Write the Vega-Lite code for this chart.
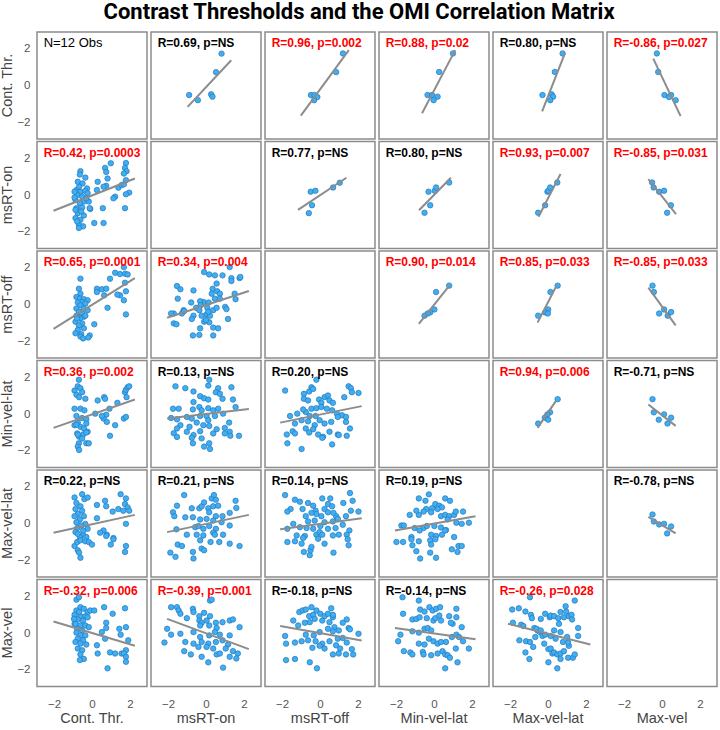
{
"$schema":"https://vega.github.io/schema/vega-lite/v6.json",
"title":{"text":"Contrast Thresholds and the OMI Correlation Matrix","font":"Roboto","fontSize":22,"fontWeight":"bold","color":"#000000","anchor":"middle","frame":"bounds","offset":7},
"padding":{"left":0,"top":1,"right":1,"bottom":1},
"config":{"view":{"stroke":"#8c8c8c","strokeWidth":1.5},"axis":{"grid":false,"domain":false,"ticks":false,"minExtent":0,"labelFont":"Liberation Sans","labelFontSize":11.5,"labelColor":"#555555"},"axisX":{"labelPadding":10},"axisY":{"labelPadding":6}},
"data":{"values":[
{"r":1,"c":1,"t":"N=12 Obs","s":"obs"},
{"r":2,"c":2},{"r":3,"c":3},{"r":4,"c":4},{"r":5,"c":5},{"r":6,"c":6},
{"r":1,"c":2,"t":"R=0.69, p=NS","s":"ns"},
{"r":1,"c":3,"t":"R=0.96, p=0.002","s":"sig"},
{"r":1,"c":4,"t":"R=0.88, p=0.02","s":"sig"},
{"r":1,"c":5,"t":"R=0.80, p=NS","s":"ns"},
{"r":1,"c":6,"t":"R=-0.86, p=0.027","s":"sig"},
{"r":2,"c":1,"t":"R=0.42, p=0.0003","s":"sig"},
{"r":2,"c":3,"t":"R=0.77, p=NS","s":"ns"},
{"r":2,"c":4,"t":"R=0.80, p=NS","s":"ns"},
{"r":2,"c":5,"t":"R=0.93, p=0.007","s":"sig"},
{"r":2,"c":6,"t":"R=-0.85, p=0.031","s":"sig"},
{"r":3,"c":1,"t":"R=0.65, p=0.0001","s":"sig"},
{"r":3,"c":2,"t":"R=0.34, p=0.004","s":"sig"},
{"r":3,"c":4,"t":"R=0.90, p=0.014","s":"sig"},
{"r":3,"c":5,"t":"R=0.85, p=0.033","s":"sig"},
{"r":3,"c":6,"t":"R=-0.85, p=0.033","s":"sig"},
{"r":4,"c":1,"t":"R=0.36, p=0.002","s":"sig"},
{"r":4,"c":2,"t":"R=0.13, p=NS","s":"ns"},
{"r":4,"c":3,"t":"R=0.20, p=NS","s":"ns"},
{"r":4,"c":5,"t":"R=0.94, p=0.006","s":"sig"},
{"r":4,"c":6,"t":"R=-0.71, p=NS","s":"ns"},
{"r":5,"c":1,"t":"R=0.22, p=NS","s":"ns"},
{"r":5,"c":2,"t":"R=0.21, p=NS","s":"ns"},
{"r":5,"c":3,"t":"R=0.14, p=NS","s":"ns"},
{"r":5,"c":4,"t":"R=0.19, p=NS","s":"ns"},
{"r":5,"c":6,"t":"R=-0.78, p=NS","s":"ns"},
{"r":6,"c":1,"t":"R=-0.32, p=0.006","s":"sig"},
{"r":6,"c":2,"t":"R=-0.39, p=0.001","s":"sig"},
{"r":6,"c":3,"t":"R=-0.18, p=NS","s":"ns"},
{"r":6,"c":4,"t":"R=-0.14, p=NS","s":"ns"},
{"r":6,"c":5,"t":"R=-0.26, p=0.028","s":"sig"},
{"r":1,"c":2,"x":-0.97,"y":-1.17,"x2":1.33,"y2":1.38},
{"r":1,"c":3,"x":-1.01,"y":-1.64,"x2":1.52,"y2":1.93},
{"r":1,"c":4,"x":-0.63,"y":-1.51,"x2":1.12,"y2":1.93},
{"r":1,"c":5,"x":-0.31,"y":-1.41,"x2":0.89,"y2":1.75},
{"r":1,"c":6,"x":-0.46,"y":1.47,"x2":0.98,"y2":-1.67},
{"r":2,"c":3,"x":-1.16,"y":-0.81,"x2":1.39,"y2":0.94},
{"r":2,"c":4,"x":-0.79,"y":-0.83,"x2":0.89,"y2":0.94},
{"r":2,"c":5,"x":-0.50,"y":-1.19,"x2":0.66,"y2":1.15},
{"r":2,"c":6,"x":-0.72,"y":0.86,"x2":0.74,"y2":-1.05},
{"r":3,"c":4,"x":-0.80,"y":-1.06,"x2":0.80,"y2":1.01},
{"r":3,"c":5,"x":-0.55,"y":-0.99,"x2":0.44,"y2":1.01},
{"r":3,"c":6,"x":-0.72,"y":0.92,"x2":0.72,"y2":-1.14},
{"r":4,"c":5,"x":-0.55,"y":-0.76,"x2":0.41,"y2":0.70},
{"r":4,"c":6,"x":-0.72,"y":0.52,"x2":0.72,"y2":-0.65},
{"r":5,"c":6,"x":-0.72,"y":0.36,"x2":0.72,"y2":-0.54},
{"r":2,"c":1,"x":-2.03,"y":-0.86,"x2":2.26,"y2":0.90},
{"r":3,"c":1,"x":-2.03,"y":-1.33,"x2":2.26,"y2":1.44},
{"r":3,"c":2,"x":-2.05,"y":-0.72,"x2":2.26,"y2":0.74},
{"r":4,"c":1,"x":-2.03,"y":-0.76,"x2":2.26,"y2":0.79},
{"r":4,"c":2,"x":-2.05,"y":-0.25,"x2":2.26,"y2":0.27},
{"r":4,"c":3,"x":-2.10,"y":-0.47,"x2":2.20,"y2":0.43},
{"r":5,"c":1,"x":-2.03,"y":-0.50,"x2":2.26,"y2":0.47},
{"r":5,"c":2,"x":-2.05,"y":-0.47,"x2":2.26,"y2":0.47},
{"r":5,"c":3,"x":-2.10,"y":-0.32,"x2":2.20,"y2":0.29},
{"r":5,"c":4,"x":-2.06,"y":-0.38,"x2":2.19,"y2":0.40},
{"r":6,"c":1,"x":-2.03,"y":0.63,"x2":2.26,"y2":-0.70},
{"r":6,"c":2,"x":-2.05,"y":0.77,"x2":2.26,"y2":-0.88},
{"r":6,"c":3,"x":-2.10,"y":0.38,"x2":2.20,"y2":-0.41},
{"r":6,"c":4,"x":-2.06,"y":0.27,"x2":2.19,"y2":-0.34},
{"r":6,"c":5,"x":-2.11,"y":0.50,"x2":2.23,"y2":-0.63},
{"r":1,"c":2,"x":-0.89,"y":-0.52},{"r":1,"c":2,"x":-0.43,"y":-0.80},{"r":1,"c":2,"x":0.27,"y":-0.48},{"r":1,"c":2,"x":0.34,"y":-0.61},{"r":1,"c":2,"x":0.53,"y":0.73},{"r":1,"c":2,"x":0.82,"y":1.74},
{"r":1,"c":3,"x":1.21,"y":1.75},{"r":1,"c":3,"x":0.85,"y":0.73},{"r":1,"c":3,"x":-0.48,"y":-0.52},{"r":1,"c":3,"x":-0.29,"y":-0.52},{"r":1,"c":3,"x":-0.14,"y":-0.63},{"r":1,"c":3,"x":-0.31,"y":-0.80},
{"r":1,"c":4,"x":1.00,"y":1.75},{"r":1,"c":4,"x":0.27,"y":0.74},{"r":1,"c":4,"x":-0.34,"y":-0.52},{"r":1,"c":4,"x":-0.10,"y":-0.52},{"r":1,"c":4,"x":0.19,"y":-0.61},{"r":1,"c":4,"x":-0.02,"y":-0.80},
{"r":1,"c":5,"x":0.77,"y":1.75},{"r":1,"c":5,"x":0.36,"y":0.74},{"r":1,"c":5,"x":-0.29,"y":-0.52},{"r":1,"c":5,"x":0.19,"y":-0.48},{"r":1,"c":5,"x":0.27,"y":-0.61},{"r":1,"c":5,"x":0.12,"y":-0.80},
{"r":1,"c":6,"x":-0.27,"y":1.75},{"r":1,"c":6,"x":-0.20,"y":0.74},{"r":1,"c":6,"x":0.13,"y":-0.52},{"r":1,"c":6,"x":0.48,"y":-0.52},{"r":1,"c":6,"x":0.37,"y":-0.63},{"r":1,"c":6,"x":0.72,"y":-0.80},
{"r":2,"c":3,"x":-0.59,"y":-0.99},{"r":2,"c":3,"x":-0.49,"y":0.18},{"r":2,"c":3,"x":-0.24,"y":0.23},{"r":2,"c":3,"x":-0.42,"y":-0.56},{"r":2,"c":3,"x":0.69,"y":0.41},{"r":2,"c":3,"x":1.04,"y":0.67},
{"r":2,"c":4,"x":-0.50,"y":-0.97},{"r":2,"c":4,"x":-0.20,"y":-0.56},{"r":2,"c":4,"x":-0.29,"y":0.18},{"r":2,"c":4,"x":0.04,"y":0.23},{"r":2,"c":4,"x":0.11,"y":0.41},{"r":2,"c":4,"x":0.80,"y":0.68},
{"r":2,"c":5,"x":-0.52,"y":-0.97},{"r":2,"c":5,"x":-0.15,"y":-0.56},{"r":2,"c":5,"x":-0.03,"y":0.18},{"r":2,"c":5,"x":0.02,"y":0.23},{"r":2,"c":5,"x":0.11,"y":0.41},{"r":2,"c":5,"x":0.49,"y":0.68},
{"r":2,"c":6,"x":-0.52,"y":0.68},{"r":2,"c":6,"x":-0.44,"y":0.41},{"r":2,"c":6,"x":-0.15,"y":0.18},{"r":2,"c":6,"x":0.11,"y":0.23},{"r":2,"c":6,"x":0.47,"y":-0.56},{"r":2,"c":6,"x":0.27,"y":-0.97},
{"r":3,"c":4,"x":0.80,"y":1.03},{"r":3,"c":4,"x":0.11,"y":0.68},{"r":3,"c":4,"x":0.02,"y":-0.27},{"r":3,"c":4,"x":-0.20,"y":-0.43},{"r":3,"c":4,"x":-0.33,"y":-0.49},{"r":3,"c":4,"x":-0.50,"y":-0.61},
{"r":3,"c":5,"x":0.51,"y":1.03},{"r":3,"c":5,"x":0.13,"y":0.68},{"r":3,"c":5,"x":0.01,"y":-0.27},{"r":3,"c":5,"x":-0.15,"y":-0.43},{"r":3,"c":5,"x":-0.01,"y":-0.49},{"r":3,"c":5,"x":-0.52,"y":-0.61},
{"r":3,"c":6,"x":-0.50,"y":1.03},{"r":3,"c":6,"x":-0.43,"y":0.68},{"r":3,"c":6,"x":-0.15,"y":-0.49},{"r":3,"c":6,"x":0.11,"y":-0.27},{"r":3,"c":6,"x":0.30,"y":-0.61},{"r":3,"c":6,"x":0.48,"y":-0.41},
{"r":4,"c":5,"x":0.51,"y":0.81},{"r":4,"c":5,"x":0.11,"y":0.09},{"r":4,"c":5,"x":-0.03,"y":-0.02},{"r":4,"c":5,"x":-0.17,"y":-0.20},{"r":4,"c":5,"x":0.01,"y":-0.31},{"r":4,"c":5,"x":-0.52,"y":-0.52},
{"r":4,"c":6,"x":-0.50,"y":0.81},{"r":4,"c":6,"x":-0.43,"y":0.09},{"r":4,"c":6,"x":-0.17,"y":-0.31},{"r":4,"c":6,"x":0.11,"y":-0.02},{"r":4,"c":6,"x":0.29,"y":-0.52},{"r":4,"c":6,"x":0.48,"y":-0.20},
{"r":5,"c":6,"x":-0.50,"y":0.49},{"r":5,"c":6,"x":-0.43,"y":0.11},{"r":5,"c":6,"x":-0.15,"y":-0.05},{"r":5,"c":6,"x":0.11,"y":-0.02},{"r":5,"c":6,"x":0.48,"y":-0.16},{"r":5,"c":6,"x":0.27,"y":-0.54},
{"r":2,"c":1,"x":-0.61,"y":1.30},{"r":2,"c":1,"x":-0.64,"y":1.12},{"r":2,"c":1,"x":-0.35,"y":0.95},{"r":2,"c":1,"x":-0.75,"y":0.72},{"r":2,"c":1,"x":-0.50,"y":0.63},{"r":2,"c":1,"x":-0.26,"y":0.36},{"r":2,"c":1,"x":-0.82,"y":0.27},{"r":2,"c":1,"x":-0.61,"y":0.18},{"r":2,"c":1,"x":-0.35,"y":0.22},{"r":2,"c":1,"x":-0.78,"y":0.00},{"r":2,"c":1,"x":-0.52,"y":-0.09},{"r":2,"c":1,"x":-0.23,"y":0.09},{"r":2,"c":1,"x":-0.87,"y":-0.27},{"r":2,"c":1,"x":-0.43,"y":-0.36},{"r":2,"c":1,"x":-0.64,"y":-0.45},{"r":2,"c":1,"x":-0.17,"y":-0.36},{"r":2,"c":1,"x":-0.82,"y":-0.72},{"r":2,"c":1,"x":-0.52,"y":-0.68},{"r":2,"c":1,"x":-0.09,"y":-0.76},{"r":2,"c":1,"x":-0.75,"y":-0.99},{"r":2,"c":1,"x":-0.43,"y":-1.12},{"r":2,"c":1,"x":-0.87,"y":-1.26},{"r":2,"c":1,"x":-0.61,"y":-1.35},{"r":2,"c":1,"x":-0.69,"y":-1.62},{"r":2,"c":1,"x":-0.47,"y":-1.71},{"r":2,"c":1,"x":-0.69,"y":-1.80},{"r":2,"c":1,"x":-0.92,"y":-0.14},{"r":2,"c":1,"x":-0.68,"y":0.45},{"r":2,"c":1,"x":-0.30,"y":-0.18},{"r":2,"c":1,"x":-0.87,"y":-0.81},{"r":2,"c":1,"x":-0.92,"y":0.18},{"r":2,"c":1,"x":-0.57,"y":-0.90},{"r":2,"c":1,"x":-0.78,"y":-1.44},{"r":2,"c":1,"x":0.99,"y":1.73},{"r":2,"c":1,"x":0.69,"y":1.48},{"r":2,"c":1,"x":0.75,"y":1.26},{"r":2,"c":1,"x":0.30,"y":0.72},{"r":2,"c":1,"x":0.82,"y":0.90},{"r":2,"c":1,"x":0.26,"y":0.27},{"r":2,"c":1,"x":0.75,"y":0.50},{"r":2,"c":1,"x":0.61,"y":0.45},{"r":2,"c":1,"x":1.22,"y":-0.09},{"r":2,"c":1,"x":1.13,"y":-0.18},{"r":2,"c":1,"x":0.57,"y":-0.72},{"r":2,"c":1,"x":1.39,"y":0.40},{"r":2,"c":1,"x":1.56,"y":0.54},{"r":2,"c":1,"x":1.79,"y":1.75},{"r":2,"c":1,"x":1.74,"y":1.48},{"r":2,"c":1,"x":1.82,"y":1.30},{"r":2,"c":1,"x":1.68,"y":1.17},{"r":2,"c":1,"x":1.79,"y":0.81},{"r":2,"c":1,"x":1.68,"y":0.58},{"r":2,"c":1,"x":1.96,"y":0.13},{"r":2,"c":1,"x":1.79,"y":0.04},{"r":2,"c":1,"x":1.74,"y":-0.72},{"r":2,"c":1,"x":0.12,"y":-1.53},{"r":2,"c":1,"x":0.61,"y":-1.53},{"r":2,"c":1,"x":-0.12,"y":-0.72},
{"r":3,"c":1,"x":-0.61,"y":1.41},{"r":3,"c":1,"x":-0.69,"y":0.86},{"r":3,"c":1,"x":-0.61,"y":0.59},{"r":3,"c":1,"x":-0.82,"y":0.41},{"r":3,"c":1,"x":-0.64,"y":0.32},{"r":3,"c":1,"x":-0.43,"y":0.29},{"r":3,"c":1,"x":-0.23,"y":0.23},{"r":3,"c":1,"x":-0.52,"y":0.14},{"r":3,"c":1,"x":-0.75,"y":0.11},{"r":3,"c":1,"x":-0.35,"y":0.05},{"r":3,"c":1,"x":-0.61,"y":-0.04},{"r":3,"c":1,"x":-0.82,"y":-0.22},{"r":3,"c":1,"x":-0.43,"y":-0.22},{"r":3,"c":1,"x":-0.23,"y":-0.31},{"r":3,"c":1,"x":-0.69,"y":-0.40},{"r":3,"c":1,"x":-0.52,"y":-0.49},{"r":3,"c":1,"x":-0.82,"y":-0.61},{"r":3,"c":1,"x":-0.43,"y":-0.67},{"r":3,"c":1,"x":-0.64,"y":-0.76},{"r":3,"c":1,"x":-0.87,"y":-0.94},{"r":3,"c":1,"x":-0.52,"y":-1.03},{"r":3,"c":1,"x":-0.69,"y":-1.15},{"r":3,"c":1,"x":-0.43,"y":-1.30},{"r":3,"c":1,"x":-0.75,"y":-1.39},{"r":3,"c":1,"x":-0.57,"y":-1.62},{"r":3,"c":1,"x":-0.87,"y":-1.57},{"r":3,"c":1,"x":-0.12,"y":-1.69},{"r":3,"c":1,"x":-0.61,"y":-1.75},{"r":3,"c":1,"x":-0.35,"y":-0.61},{"r":3,"c":1,"x":-0.78,"y":-0.76},{"r":3,"c":1,"x":-0.47,"y":-1.85},{"r":3,"c":1,"x":-0.20,"y":-1.80},{"r":3,"c":1,"x":0.26,"y":0.86},{"r":3,"c":1,"x":0.52,"y":0.83},{"r":3,"c":1,"x":0.75,"y":0.86},{"r":3,"c":1,"x":0.64,"y":0.50},{"r":3,"c":1,"x":0.82,"y":-0.18},{"r":3,"c":1,"x":0.95,"y":1.41},{"r":3,"c":1,"x":1.22,"y":1.73},{"r":3,"c":1,"x":1.48,"y":1.66},{"r":3,"c":1,"x":1.68,"y":2.04},{"r":3,"c":1,"x":1.75,"y":1.68},{"r":3,"c":1,"x":1.88,"y":1.64},{"r":3,"c":1,"x":1.74,"y":1.19},{"r":3,"c":1,"x":1.48,"y":0.50},{"r":3,"c":1,"x":1.79,"y":0.72},{"r":3,"c":1,"x":1.68,"y":0.23},{"r":3,"c":1,"x":1.79,"y":-0.54},{"r":3,"c":1,"x":1.34,"y":0.54},{"r":3,"c":1,"x":0.12,"y":-1.08},{"r":3,"c":1,"x":0.26,"y":0.68},
{"r":3,"c":2,"x":-1.53,"y":1.01},{"r":3,"c":2,"x":-1.35,"y":0.83},{"r":3,"c":2,"x":-0.66,"y":0.77},{"r":3,"c":2,"x":-0.10,"y":1.77},{"r":3,"c":2,"x":0.17,"y":1.64},{"r":3,"c":2,"x":0.47,"y":1.59},{"r":3,"c":2,"x":0.87,"y":1.59},{"r":3,"c":2,"x":1.25,"y":2.04},{"r":3,"c":2,"x":1.34,"y":1.44},{"r":3,"c":2,"x":1.34,"y":1.28},{"r":3,"c":2,"x":1.77,"y":1.44},{"r":3,"c":2,"x":1.81,"y":1.50},{"r":3,"c":2,"x":0.56,"y":1.14},{"r":3,"c":2,"x":0.35,"y":0.86},{"r":3,"c":2,"x":0.59,"y":0.72},{"r":3,"c":2,"x":0.73,"y":0.59},{"r":3,"c":2,"x":0.30,"y":0.59},{"r":3,"c":2,"x":0.73,"y":0.32},{"r":3,"c":2,"x":0.47,"y":0.32},{"r":3,"c":2,"x":0.14,"y":0.11},{"r":3,"c":2,"x":-0.14,"y":0.14},{"r":3,"c":2,"x":-0.31,"y":0.18},{"r":3,"c":2,"x":-0.28,"y":-0.04},{"r":3,"c":2,"x":-0.52,"y":-0.18},{"r":3,"c":2,"x":-0.78,"y":0.11},{"r":3,"c":2,"x":-1.18,"y":-0.31},{"r":3,"c":2,"x":-1.27,"y":-0.49},{"r":3,"c":2,"x":-1.70,"y":-0.49},{"r":3,"c":2,"x":-1.84,"y":-0.49},{"r":3,"c":2,"x":-1.49,"y":0.32},{"r":3,"c":2,"x":-1.15,"y":-0.36},{"r":3,"c":2,"x":-0.66,"y":-0.61},{"r":3,"c":2,"x":-0.75,"y":-0.79},{"r":3,"c":2,"x":0.03,"y":-0.54},{"r":3,"c":2,"x":0.21,"y":-0.61},{"r":3,"c":2,"x":-0.23,"y":-0.61},{"r":3,"c":2,"x":-0.35,"y":-0.31},{"r":3,"c":2,"x":0.07,"y":-0.18},{"r":3,"c":2,"x":0.38,"y":-0.31},{"r":3,"c":2,"x":0.56,"y":-0.18},{"r":3,"c":2,"x":1.01,"y":-0.13},{"r":3,"c":2,"x":1.08,"y":-0.25},{"r":3,"c":2,"x":1.16,"y":-0.79},{"r":3,"c":2,"x":1.51,"y":0.59},{"r":3,"c":2,"x":1.56,"y":0.29},{"r":3,"c":2,"x":-0.10,"y":-0.94},{"r":3,"c":2,"x":0.17,"y":-0.97},{"r":3,"c":2,"x":0.38,"y":-1.26},{"r":3,"c":2,"x":-0.31,"y":-1.30},{"r":3,"c":2,"x":-0.69,"y":-1.69},{"r":3,"c":2,"x":-1.70,"y":-1.03},{"r":3,"c":2,"x":-1.56,"y":-1.08},{"r":3,"c":2,"x":0.64,"y":-1.30},{"r":3,"c":2,"x":-0.35,"y":-1.66},{"r":3,"c":2,"x":0.38,"y":-1.69},{"r":3,"c":2,"x":0.00,"y":-0.85},{"r":3,"c":2,"x":0.12,"y":-0.40},
{"r":4,"c":1,"x":-0.69,"y":1.87},{"r":4,"c":1,"x":-0.92,"y":1.28},{"r":4,"c":1,"x":-0.75,"y":1.51},{"r":4,"c":1,"x":-0.61,"y":1.41},{"r":4,"c":1,"x":-0.82,"y":1.05},{"r":4,"c":1,"x":-0.52,"y":1.19},{"r":4,"c":1,"x":-0.68,"y":0.92},{"r":4,"c":1,"x":-0.35,"y":0.83},{"r":4,"c":1,"x":-0.92,"y":0.29},{"r":4,"c":1,"x":-0.61,"y":0.29},{"r":4,"c":1,"x":-0.40,"y":0.20},{"r":4,"c":1,"x":-0.82,"y":-0.11},{"r":4,"c":1,"x":-0.52,"y":-0.22},{"r":4,"c":1,"x":-0.75,"y":-0.47},{"r":4,"c":1,"x":-0.30,"y":-0.29},{"r":4,"c":1,"x":-0.92,"y":-0.61},{"r":4,"c":1,"x":-0.61,"y":-0.70},{"r":4,"c":1,"x":-0.43,"y":-0.79},{"r":4,"c":1,"x":-0.78,"y":-1.06},{"r":4,"c":1,"x":-0.47,"y":-1.12},{"r":4,"c":1,"x":-0.23,"y":-0.97},{"r":4,"c":1,"x":-0.68,"y":-1.24},{"r":4,"c":1,"x":-0.82,"y":-0.58},{"r":4,"c":1,"x":-0.30,"y":-0.52},{"r":4,"c":1,"x":0.30,"y":0.74},{"r":4,"c":1,"x":0.64,"y":0.92},{"r":4,"c":1,"x":0.69,"y":0.83},{"r":4,"c":1,"x":0.17,"y":0.02},{"r":4,"c":1,"x":0.75,"y":-0.04},{"r":4,"c":1,"x":0.61,"y":-0.25},{"r":4,"c":1,"x":0.78,"y":-0.43},{"r":4,"c":1,"x":1.22,"y":-0.61},{"r":4,"c":1,"x":0.92,"y":0.29},{"r":4,"c":1,"x":1.34,"y":0.61},{"r":4,"c":1,"x":1.68,"y":-0.25},{"r":4,"c":1,"x":1.79,"y":-0.16},{"r":4,"c":1,"x":1.74,"y":1.19},{"r":4,"c":1,"x":1.79,"y":1.32},{"r":4,"c":1,"x":1.88,"y":1.46},{"r":4,"c":1,"x":1.96,"y":1.51},{"r":4,"c":1,"x":1.82,"y":0.92},{"r":4,"c":1,"x":0.95,"y":-1.19},{"r":4,"c":1,"x":0.52,"y":-0.11},{"r":4,"c":1,"x":-0.75,"y":-1.12},{"r":4,"c":1,"x":-0.30,"y":-1.01},{"r":4,"c":1,"x":-0.69,"y":-1.60},{"r":4,"c":1,"x":-0.75,"y":-1.78},{"r":4,"c":1,"x":-0.30,"y":-1.60},{"r":4,"c":1,"x":-0.17,"y":-1.60},{"r":4,"c":1,"x":-0.68,"y":-1.96},{"r":4,"c":1,"x":-0.52,"y":-1.34},
{"r":4,"c":2,"x":-1.61,"y":1.51},{"r":4,"c":2,"x":-1.09,"y":1.41},{"r":4,"c":2,"x":-0.66,"y":1.23},{"r":4,"c":2,"x":0.12,"y":1.55},{"r":4,"c":2,"x":0.64,"y":1.41},{"r":4,"c":2,"x":1.34,"y":1.46},{"r":4,"c":2,"x":0.17,"y":1.87},{"r":4,"c":2,"x":0.52,"y":1.19},{"r":4,"c":2,"x":-0.66,"y":0.65},{"r":4,"c":2,"x":-0.31,"y":0.97},{"r":4,"c":2,"x":-0.10,"y":0.86},{"r":4,"c":2,"x":0.12,"y":0.79},{"r":4,"c":2,"x":0.73,"y":1.10},{"r":4,"c":2,"x":0.87,"y":0.83},{"r":4,"c":2,"x":1.42,"y":0.79},{"r":4,"c":2,"x":1.56,"y":0.38},{"r":4,"c":2,"x":-1.74,"y":0.29},{"r":4,"c":2,"x":-1.44,"y":0.29},{"r":4,"c":2,"x":-0.69,"y":0.25},{"r":4,"c":2,"x":-0.35,"y":0.38},{"r":4,"c":2,"x":-0.23,"y":0.20},{"r":4,"c":2,"x":0.12,"y":0.32},{"r":4,"c":2,"x":0.38,"y":0.20},{"r":4,"c":2,"x":0.64,"y":0.29},{"r":4,"c":2,"x":0.03,"y":-0.11},{"r":4,"c":2,"x":0.47,"y":-0.11},{"r":4,"c":2,"x":0.90,"y":0.02},{"r":4,"c":2,"x":-1.84,"y":-0.22},{"r":4,"c":2,"x":-1.53,"y":-0.29},{"r":4,"c":2,"x":-1.01,"y":-0.16},{"r":4,"c":2,"x":-0.31,"y":-0.11},{"r":4,"c":2,"x":-1.35,"y":-0.61},{"r":4,"c":2,"x":-0.87,"y":-0.70},{"r":4,"c":2,"x":-0.49,"y":-0.47},{"r":4,"c":2,"x":-0.14,"y":-0.61},{"r":4,"c":2,"x":0.17,"y":-0.65},{"r":4,"c":2,"x":0.56,"y":-0.83},{"r":4,"c":2,"x":-0.31,"y":-0.94},{"r":4,"c":2,"x":0.99,"y":-0.76},{"r":4,"c":2,"x":1.22,"y":-0.47},{"r":4,"c":2,"x":-1.70,"y":-1.05},{"r":4,"c":2,"x":-1.01,"y":-0.97},{"r":4,"c":2,"x":-0.66,"y":-1.15},{"r":4,"c":2,"x":0.38,"y":-1.06},{"r":4,"c":2,"x":1.25,"y":-0.97},{"r":4,"c":2,"x":-1.53,"y":-0.79},{"r":4,"c":2,"x":-0.75,"y":-0.25},{"r":4,"c":2,"x":0.12,"y":-0.34},{"r":4,"c":2,"x":-1.53,"y":-1.25},{"r":4,"c":2,"x":-0.75,"y":-1.30},{"r":4,"c":2,"x":-0.69,"y":-1.60},{"r":4,"c":2,"x":-0.23,"y":-1.33},{"r":4,"c":2,"x":0.17,"y":-1.60},{"r":4,"c":2,"x":0.21,"y":-1.91},{"r":4,"c":2,"x":-0.10,"y":-1.78},{"r":4,"c":2,"x":0.99,"y":-1.06},{"r":4,"c":2,"x":1.28,"y":-1.19},{"r":4,"c":2,"x":1.74,"y":-1.19},
{"r":4,"c":3,"x":-1.84,"y":1.28},{"r":4,"c":3,"x":-0.85,"y":1.10},{"r":4,"c":3,"x":-0.85,"y":0.83},{"r":4,"c":3,"x":-0.57,"y":1.23},{"r":4,"c":3,"x":-0.45,"y":1.46},{"r":4,"c":3,"x":-0.36,"y":1.37},{"r":4,"c":3,"x":-0.19,"y":1.87},{"r":4,"c":3,"x":-0.63,"y":0.74},{"r":4,"c":3,"x":-0.05,"y":0.79},{"r":4,"c":3,"x":0.07,"y":0.61},{"r":4,"c":3,"x":0.24,"y":0.92},{"r":4,"c":3,"x":0.42,"y":1.01},{"r":4,"c":3,"x":0.50,"y":0.74},{"r":4,"c":3,"x":0.68,"y":0.61},{"r":4,"c":3,"x":1.28,"y":0.92},{"r":4,"c":3,"x":1.51,"y":1.51},{"r":4,"c":3,"x":1.63,"y":1.41},{"r":4,"c":3,"x":2.03,"y":1.15},{"r":4,"c":3,"x":1.68,"y":1.19},{"r":4,"c":3,"x":-1.58,"y":-0.11},{"r":4,"c":3,"x":-1.20,"y":0.02},{"r":4,"c":3,"x":-0.75,"y":0.11},{"r":4,"c":3,"x":-0.45,"y":0.29},{"r":4,"c":3,"x":-0.19,"y":0.32},{"r":4,"c":3,"x":0.07,"y":0.38},{"r":4,"c":3,"x":0.36,"y":0.29},{"r":4,"c":3,"x":0.64,"y":0.20},{"r":4,"c":3,"x":0.89,"y":0.02},{"r":4,"c":3,"x":1.16,"y":-0.07},{"r":4,"c":3,"x":-1.32,"y":-0.52},{"r":4,"c":3,"x":-0.97,"y":-0.34},{"r":4,"c":3,"x":-0.63,"y":-0.40},{"r":4,"c":3,"x":-0.28,"y":-0.61},{"r":4,"c":3,"x":-0.02,"y":-0.34},{"r":4,"c":3,"x":0.24,"y":-0.52},{"r":4,"c":3,"x":0.59,"y":-0.43},{"r":4,"c":3,"x":0.94,"y":-0.16},{"r":4,"c":3,"x":1.37,"y":-0.16},{"r":4,"c":3,"x":1.37,"y":-0.43},{"r":4,"c":3,"x":-1.75,"y":-1.12},{"r":4,"c":3,"x":-1.44,"y":-0.94},{"r":4,"c":3,"x":-0.75,"y":-0.79},{"r":4,"c":3,"x":-0.36,"y":-0.83},{"r":4,"c":3,"x":0.16,"y":-1.24},{"r":4,"c":3,"x":0.50,"y":-0.97},{"r":4,"c":3,"x":0.94,"y":-1.12},{"r":4,"c":3,"x":1.41,"y":-1.19},{"r":4,"c":3,"x":1.58,"y":-0.79},{"r":4,"c":3,"x":-0.54,"y":-0.11},{"r":4,"c":3,"x":-0.89,"y":0.25},{"r":4,"c":3,"x":-0.23,"y":-0.11},{"r":4,"c":3,"x":-1.72,"y":-1.60},{"r":4,"c":3,"x":-1.32,"y":-1.06},{"r":4,"c":3,"x":-0.97,"y":-1.91},{"r":4,"c":3,"x":-0.57,"y":-1.01},{"r":4,"c":3,"x":-0.10,"y":-1.12},{"r":4,"c":3,"x":0.12,"y":-1.30},{"r":4,"c":3,"x":0.64,"y":-1.66},{"r":4,"c":3,"x":0.99,"y":-1.15},
{"r":5,"c":1,"x":-0.92,"y":1.42},{"r":5,"c":1,"x":-0.52,"y":1.60},{"r":5,"c":1,"x":-0.40,"y":1.33},{"r":5,"c":1,"x":-0.23,"y":1.42},{"r":5,"c":1,"x":-0.82,"y":1.12},{"r":5,"c":1,"x":-0.61,"y":0.94},{"r":5,"c":1,"x":-0.87,"y":0.79},{"r":5,"c":1,"x":-0.52,"y":0.70},{"r":5,"c":1,"x":-0.75,"y":0.52},{"r":5,"c":1,"x":-0.92,"y":0.40},{"r":5,"c":1,"x":-0.43,"y":0.40},{"r":5,"c":1,"x":-0.64,"y":0.22},{"r":5,"c":1,"x":-0.82,"y":0.07},{"r":5,"c":1,"x":-0.35,"y":-0.02},{"r":5,"c":1,"x":-0.57,"y":-0.11},{"r":5,"c":1,"x":-0.78,"y":-0.25},{"r":5,"c":1,"x":-0.87,"y":-0.47},{"r":5,"c":1,"x":-0.47,"y":-0.61},{"r":5,"c":1,"x":-0.64,"y":-0.74},{"r":5,"c":1,"x":-0.23,"y":-0.29},{"r":5,"c":1,"x":-0.30,"y":-0.74},{"r":5,"c":1,"x":0.26,"y":1.01},{"r":5,"c":1,"x":0.26,"y":0.29},{"r":5,"c":1,"x":0.69,"y":1.24},{"r":5,"c":1,"x":0.75,"y":0.94},{"r":5,"c":1,"x":1.09,"y":0.65},{"r":5,"c":1,"x":1.39,"y":0.79},{"r":5,"c":1,"x":1.51,"y":1.60},{"r":5,"c":1,"x":1.79,"y":1.37},{"r":5,"c":1,"x":1.74,"y":1.06},{"r":5,"c":1,"x":1.88,"y":0.88},{"r":5,"c":1,"x":1.65,"y":0.70},{"r":5,"c":1,"x":1.96,"y":0.70},{"r":5,"c":1,"x":1.79,"y":-0.02},{"r":5,"c":1,"x":0.61,"y":-0.38},{"r":5,"c":1,"x":0.78,"y":-0.61},{"r":5,"c":1,"x":1.13,"y":-0.79},{"r":5,"c":1,"x":-0.92,"y":-1.23},{"r":5,"c":1,"x":-0.75,"y":-1.46},{"r":5,"c":1,"x":-0.68,"y":-1.59},{"r":5,"c":1,"x":-0.61,"y":-1.87},{"r":5,"c":1,"x":-0.78,"y":-1.01},{"r":5,"c":1,"x":-0.61,"y":-0.92},{"r":5,"c":1,"x":-0.35,"y":-0.97},{"r":5,"c":1,"x":-0.17,"y":-1.01},{"r":5,"c":1,"x":0.00,"y":-1.15},{"r":5,"c":1,"x":0.43,"y":-0.50},{"r":5,"c":1,"x":0.75,"y":-0.68},{"r":5,"c":1,"x":0.99,"y":-1.15},{"r":5,"c":1,"x":1.13,"y":-0.86},{"r":5,"c":1,"x":1.79,"y":-1.23},{"r":5,"c":1,"x":1.74,"y":-1.55},{"r":5,"c":1,"x":-0.75,"y":-0.56},{"r":5,"c":1,"x":-0.47,"y":-0.38},
{"r":5,"c":2,"x":-1.15,"y":1.55},{"r":5,"c":2,"x":-1.53,"y":0.97},{"r":5,"c":2,"x":-1.74,"y":0.61},{"r":5,"c":2,"x":-1.67,"y":0.40},{"r":5,"c":2,"x":-1.09,"y":0.34},{"r":5,"c":2,"x":-0.69,"y":0.34},{"r":5,"c":2,"x":-0.35,"y":0.83},{"r":5,"c":2,"x":-0.23,"y":0.94},{"r":5,"c":2,"x":-0.10,"y":1.15},{"r":5,"c":2,"x":0.30,"y":1.37},{"r":5,"c":2,"x":0.42,"y":1.55},{"r":5,"c":2,"x":0.52,"y":1.30},{"r":5,"c":2,"x":0.12,"y":0.83},{"r":5,"c":2,"x":0.38,"y":0.94},{"r":5,"c":2,"x":0.64,"y":0.97},{"r":5,"c":2,"x":0.17,"y":0.61},{"r":5,"c":2,"x":0.52,"y":0.40},{"r":5,"c":2,"x":0.87,"y":0.40},{"r":5,"c":2,"x":1.25,"y":0.58},{"r":5,"c":2,"x":1.56,"y":1.24},{"r":5,"c":2,"x":1.60,"y":0.85},{"r":5,"c":2,"x":-0.31,"y":0.22},{"r":5,"c":2,"x":0.03,"y":0.25},{"r":5,"c":2,"x":0.38,"y":0.16},{"r":5,"c":2,"x":0.82,"y":0.07},{"r":5,"c":2,"x":-0.57,"y":-0.20},{"r":5,"c":2,"x":-0.40,"y":-0.14},{"r":5,"c":2,"x":-0.14,"y":-0.29},{"r":5,"c":2,"x":0.17,"y":-0.14},{"r":5,"c":2,"x":0.52,"y":-0.29},{"r":5,"c":2,"x":1.25,"y":-0.11},{"r":5,"c":2,"x":-1.56,"y":-0.32},{"r":5,"c":2,"x":-1.01,"y":-0.61},{"r":5,"c":2,"x":-0.49,"y":-0.61},{"r":5,"c":2,"x":0.38,"y":-0.50},{"r":5,"c":2,"x":0.90,"y":-0.61},{"r":5,"c":2,"x":-0.75,"y":0.83},{"r":5,"c":2,"x":-1.88,"y":-1.59},{"r":5,"c":2,"x":-1.61,"y":-1.82},{"r":5,"c":2,"x":-1.49,"y":-1.15},{"r":5,"c":2,"x":-1.27,"y":-1.23},{"r":5,"c":2,"x":-0.66,"y":-1.91},{"r":5,"c":2,"x":-0.69,"y":-1.55},{"r":5,"c":2,"x":-0.23,"y":-1.37},{"r":5,"c":2,"x":-0.10,"y":-1.46},{"r":5,"c":2,"x":0.24,"y":-1.01},{"r":5,"c":2,"x":0.70,"y":-1.01},{"r":5,"c":2,"x":1.77,"y":-1.23},{"r":5,"c":2,"x":-0.31,"y":-0.92},{"r":5,"c":2,"x":-0.14,"y":-0.65},{"r":5,"c":2,"x":0.47,"y":-0.61},{"r":5,"c":2,"x":1.25,"y":-1.10},
{"r":5,"c":3,"x":-1.84,"y":1.55},{"r":5,"c":3,"x":-1.32,"y":1.30},{"r":5,"c":3,"x":-1.06,"y":1.19},{"r":5,"c":3,"x":-1.55,"y":0.79},{"r":5,"c":3,"x":-1.72,"y":0.65},{"r":5,"c":3,"x":-0.92,"y":0.79},{"r":5,"c":3,"x":-0.63,"y":1.12},{"r":5,"c":3,"x":-0.36,"y":0.97},{"r":5,"c":3,"x":-0.23,"y":0.70},{"r":5,"c":3,"x":0.12,"y":1.37},{"r":5,"c":3,"x":0.54,"y":1.37},{"r":5,"c":3,"x":0.42,"y":1.06},{"r":5,"c":3,"x":0.64,"y":0.94},{"r":5,"c":3,"x":1.23,"y":1.12},{"r":5,"c":3,"x":1.58,"y":1.66},{"r":5,"c":3,"x":1.72,"y":1.24},{"r":5,"c":3,"x":2.03,"y":0.65},{"r":5,"c":3,"x":1.63,"y":0.70},{"r":5,"c":3,"x":1.37,"y":0.40},{"r":5,"c":3,"x":0.85,"y":0.40},{"r":5,"c":3,"x":0.07,"y":0.40},{"r":5,"c":3,"x":-0.19,"y":0.52},{"r":5,"c":3,"x":-0.45,"y":0.58},{"r":5,"c":3,"x":-0.75,"y":0.40},{"r":5,"c":3,"x":0.24,"y":0.79},{"r":5,"c":3,"x":0.42,"y":0.61},{"r":5,"c":3,"x":0.71,"y":0.58},{"r":5,"c":3,"x":0.94,"y":0.25},{"r":5,"c":3,"x":-1.41,"y":-0.02},{"r":5,"c":3,"x":-0.63,"y":0.11},{"r":5,"c":3,"x":-0.28,"y":0.16},{"r":5,"c":3,"x":0.24,"y":0.07},{"r":5,"c":3,"x":0.68,"y":0.11},{"r":5,"c":3,"x":1.20,"y":-0.07},{"r":5,"c":3,"x":-1.72,"y":-0.29},{"r":5,"c":3,"x":-1.06,"y":-0.20},{"r":5,"c":3,"x":-0.71,"y":-0.25},{"r":5,"c":3,"x":0.02,"y":-0.14},{"r":5,"c":3,"x":0.42,"y":-0.29},{"r":5,"c":3,"x":0.82,"y":-0.25},{"r":5,"c":3,"x":1.55,"y":-0.38},{"r":5,"c":3,"x":-1.23,"y":-0.65},{"r":5,"c":3,"x":-0.80,"y":-0.68},{"r":5,"c":3,"x":-0.19,"y":-0.61},{"r":5,"c":3,"x":0.68,"y":-0.65},{"r":5,"c":3,"x":1.41,"y":-0.61},{"r":5,"c":3,"x":-0.36,"y":-0.29},{"r":5,"c":3,"x":-0.02,"y":-0.47},{"r":5,"c":3,"x":-1.72,"y":-1.01},{"r":5,"c":3,"x":-1.32,"y":-0.97},{"r":5,"c":3,"x":-0.97,"y":-1.10},{"r":5,"c":3,"x":-0.89,"y":-0.79},{"r":5,"c":3,"x":-0.85,"y":-1.55},{"r":5,"c":3,"x":-0.54,"y":-1.73},{"r":5,"c":3,"x":-0.50,"y":-1.46},{"r":5,"c":3,"x":-0.45,"y":-1.28},{"r":5,"c":3,"x":-0.10,"y":-0.83},{"r":5,"c":3,"x":0.12,"y":-0.61},{"r":5,"c":3,"x":0.24,"y":-1.10},{"r":5,"c":3,"x":0.71,"y":-1.59},{"r":5,"c":3,"x":0.99,"y":-0.61},{"r":5,"c":3,"x":1.46,"y":-0.86},{"r":5,"c":3,"x":1.51,"y":-1.19},
{"r":5,"c":4,"x":-0.80,"y":1.37},{"r":5,"c":4,"x":-0.45,"y":1.24},{"r":5,"c":4,"x":-0.27,"y":1.59},{"r":5,"c":4,"x":0.59,"y":1.37},{"r":5,"c":4,"x":0.84,"y":1.24},{"r":5,"c":4,"x":0.07,"y":1.06},{"r":5,"c":4,"x":0.28,"y":0.97},{"r":5,"c":4,"x":0.42,"y":0.88},{"r":5,"c":4,"x":0.19,"y":0.79},{"r":5,"c":4,"x":-0.10,"y":0.83},{"r":5,"c":4,"x":-0.41,"y":0.79},{"r":5,"c":4,"x":-0.55,"y":0.65},{"r":5,"c":4,"x":-0.80,"y":0.47},{"r":5,"c":4,"x":-0.93,"y":0.70},{"r":5,"c":4,"x":-1.28,"y":0.47},{"r":5,"c":4,"x":-0.15,"y":0.61},{"r":5,"c":4,"x":0.37,"y":0.40},{"r":5,"c":4,"x":0.59,"y":0.47},{"r":5,"c":4,"x":0.80,"y":0.40},{"r":5,"c":4,"x":1.06,"y":0.47},{"r":5,"c":4,"x":1.15,"y":0.65},{"r":5,"c":4,"x":1.53,"y":0.65},{"r":5,"c":4,"x":0.72,"y":0.22},{"r":5,"c":4,"x":1.18,"y":0.04},{"r":5,"c":4,"x":1.46,"y":-0.02},{"r":5,"c":4,"x":1.84,"y":0.04},{"r":5,"c":4,"x":-1.72,"y":-0.11},{"r":5,"c":4,"x":-1.59,"y":-0.11},{"r":5,"c":4,"x":-1.02,"y":-0.25},{"r":5,"c":4,"x":-0.55,"y":-0.25},{"r":5,"c":4,"x":-0.38,"y":-0.14},{"r":5,"c":4,"x":0.02,"y":-0.14},{"r":5,"c":4,"x":0.37,"y":-0.22},{"r":5,"c":4,"x":0.63,"y":-0.36},{"r":5,"c":4,"x":-0.76,"y":-0.38},{"r":5,"c":4,"x":-1.19,"y":-0.74},{"r":5,"c":4,"x":-0.15,"y":-0.61},{"r":5,"c":4,"x":0.11,"y":-0.68},{"r":5,"c":4,"x":1.06,"y":-0.74},{"r":5,"c":4,"x":-1.98,"y":-1.01},{"r":5,"c":4,"x":-1.63,"y":-1.01},{"r":5,"c":4,"x":-1.19,"y":-0.86},{"r":5,"c":4,"x":-1.14,"y":-1.19},{"r":5,"c":4,"x":-0.80,"y":-0.97},{"r":5,"c":4,"x":-0.93,"y":-1.51},{"r":5,"c":4,"x":-0.73,"y":-1.91},{"r":5,"c":4,"x":-0.20,"y":-0.92},{"r":5,"c":4,"x":-0.15,"y":-1.15},{"r":5,"c":4,"x":-0.20,"y":-1.59},{"r":5,"c":4,"x":0.07,"y":-0.86},{"r":5,"c":4,"x":0.11,"y":-1.87},{"r":5,"c":4,"x":0.42,"y":-0.61},{"r":5,"c":4,"x":0.94,"y":-1.41},{"r":5,"c":4,"x":1.24,"y":-1.55},{"r":5,"c":4,"x":1.29,"y":-1.23},{"r":5,"c":4,"x":1.46,"y":-1.23},{"r":5,"c":4,"x":0.59,"y":-0.38},
{"r":6,"c":1,"x":-0.82,"y":1.82},{"r":6,"c":1,"x":-0.69,"y":1.95},{"r":6,"c":1,"x":-0.61,"y":1.41},{"r":6,"c":1,"x":-0.82,"y":1.23},{"r":6,"c":1,"x":-0.43,"y":1.32},{"r":6,"c":1,"x":-0.23,"y":1.14},{"r":6,"c":1,"x":-0.09,"y":1.23},{"r":6,"c":1,"x":0.12,"y":1.23},{"r":6,"c":1,"x":-0.92,"y":0.99},{"r":6,"c":1,"x":-0.61,"y":0.92},{"r":6,"c":1,"x":-0.35,"y":0.92},{"r":6,"c":1,"x":-0.75,"y":0.74},{"r":6,"c":1,"x":-0.47,"y":0.68},{"r":6,"c":1,"x":-0.92,"y":0.50},{"r":6,"c":1,"x":-0.61,"y":0.41},{"r":6,"c":1,"x":-0.35,"y":0.41},{"r":6,"c":1,"x":-0.17,"y":0.32},{"r":6,"c":1,"x":-0.78,"y":0.23},{"r":6,"c":1,"x":-0.52,"y":0.14},{"r":6,"c":1,"x":-0.82,"y":0.02},{"r":6,"c":1,"x":-0.61,"y":-0.13},{"r":6,"c":1,"x":-0.35,"y":-0.13},{"r":6,"c":1,"x":-0.75,"y":-0.31},{"r":6,"c":1,"x":-0.47,"y":-0.40},{"r":6,"c":1,"x":-0.87,"y":-0.49},{"r":6,"c":1,"x":-0.61,"y":-0.58},{"r":6,"c":1,"x":-0.30,"y":-0.63},{"r":6,"c":1,"x":-0.75,"y":-0.85},{"r":6,"c":1,"x":-0.52,"y":-0.94},{"r":6,"c":1,"x":-0.61,"y":-1.17},{"r":6,"c":1,"x":-0.43,"y":-1.42},{"r":6,"c":1,"x":-0.64,"y":-1.48},{"r":6,"c":1,"x":-0.87,"y":0.50},{"r":6,"c":1,"x":-0.23,"y":0.86},{"r":6,"c":1,"x":-0.68,"y":1.14},{"r":6,"c":1,"x":-0.95,"y":0.77},{"r":6,"c":1,"x":0.64,"y":1.41},{"r":6,"c":1,"x":1.09,"y":1.05},{"r":6,"c":1,"x":0.75,"y":0.56},{"r":6,"c":1,"x":0.75,"y":0.27},{"r":6,"c":1,"x":0.52,"y":0.05},{"r":6,"c":1,"x":0.26,"y":-0.67},{"r":6,"c":1,"x":0.30,"y":-1.12},{"r":6,"c":1,"x":0.69,"y":-0.31},{"r":6,"c":1,"x":0.95,"y":-1.06},{"r":6,"c":1,"x":1.22,"y":-1.12},{"r":6,"c":1,"x":1.56,"y":-1.12},{"r":6,"c":1,"x":1.44,"y":0.23},{"r":6,"c":1,"x":1.79,"y":0.32},{"r":6,"c":1,"x":1.91,"y":-0.40},{"r":6,"c":1,"x":1.79,"y":-0.94},{"r":6,"c":1,"x":1.68,"y":-1.12},{"r":6,"c":1,"x":1.79,"y":-1.30},{"r":6,"c":1,"x":1.79,"y":-1.57},{"r":6,"c":1,"x":0.82,"y":-1.93},{"r":6,"c":1,"x":1.51,"y":-0.09},{"r":6,"c":1,"x":1.74,"y":1.35},
{"r":6,"c":2,"x":-1.84,"y":1.41},{"r":6,"c":2,"x":-1.53,"y":1.41},{"r":6,"c":2,"x":-1.44,"y":1.23},{"r":6,"c":2,"x":-0.69,"y":1.32},{"r":6,"c":2,"x":-0.66,"y":1.14},{"r":6,"c":2,"x":-0.35,"y":0.92},{"r":6,"c":2,"x":-0.10,"y":1.10},{"r":6,"c":2,"x":0.21,"y":0.92},{"r":6,"c":2,"x":0.03,"y":0.68},{"r":6,"c":2,"x":-0.35,"y":0.68},{"r":6,"c":2,"x":-0.23,"y":0.56},{"r":6,"c":2,"x":0.21,"y":1.77},{"r":6,"c":2,"x":0.30,"y":1.82},{"r":6,"c":2,"x":-0.31,"y":0.41},{"r":6,"c":2,"x":0.17,"y":0.41},{"r":6,"c":2,"x":0.52,"y":0.56},{"r":6,"c":2,"x":0.56,"y":0.27},{"r":6,"c":2,"x":0.87,"y":0.59},{"r":6,"c":2,"x":1.25,"y":0.68},{"r":6,"c":2,"x":1.42,"y":0.74},{"r":6,"c":2,"x":1.77,"y":0.32},{"r":6,"c":2,"x":-2.05,"y":0.23},{"r":6,"c":2,"x":-1.84,"y":-0.09},{"r":6,"c":2,"x":-1.35,"y":-0.04},{"r":6,"c":2,"x":-0.66,"y":0.05},{"r":6,"c":2,"x":-0.31,"y":-0.22},{"r":6,"c":2,"x":0.17,"y":-0.13},{"r":6,"c":2,"x":0.47,"y":0.05},{"r":6,"c":2,"x":0.73,"y":-0.09},{"r":6,"c":2,"x":1.25,"y":-0.13},{"r":6,"c":2,"x":-0.23,"y":-0.49},{"r":6,"c":2,"x":0.12,"y":-0.58},{"r":6,"c":2,"x":0.52,"y":-0.49},{"r":6,"c":2,"x":0.87,"y":-0.40},{"r":6,"c":2,"x":1.16,"y":-0.63},{"r":6,"c":2,"x":-2.19,"y":-0.52},{"r":6,"c":2,"x":-1.09,"y":-0.49},{"r":6,"c":2,"x":-0.66,"y":-0.58},{"r":6,"c":2,"x":-0.40,"y":-0.76},{"r":6,"c":2,"x":0.03,"y":-0.76},{"r":6,"c":2,"x":0.38,"y":-0.85},{"r":6,"c":2,"x":0.56,"y":-1.17},{"r":6,"c":2,"x":0.73,"y":-1.12},{"r":6,"c":2,"x":1.04,"y":-0.85},{"r":6,"c":2,"x":1.42,"y":-0.99},{"r":6,"c":2,"x":1.68,"y":-1.12},{"r":6,"c":2,"x":-1.15,"y":-0.99},{"r":6,"c":2,"x":-0.80,"y":-1.17},{"r":6,"c":2,"x":-0.23,"y":-1.30},{"r":6,"c":2,"x":0.12,"y":-1.60},{"r":6,"c":2,"x":0.90,"y":-1.89},{"r":6,"c":2,"x":1.25,"y":-1.30},{"r":6,"c":2,"x":1.60,"y":-1.39},{"r":6,"c":2,"x":-1.35,"y":1.05},{"r":6,"c":2,"x":-1.01,"y":0.81},
{"r":6,"c":3,"x":-1.84,"y":-0.16},{"r":6,"c":3,"x":-1.41,"y":0.68},{"r":6,"c":3,"x":-1.09,"y":1.14},{"r":6,"c":3,"x":-0.92,"y":1.23},{"r":6,"c":3,"x":-0.75,"y":1.28},{"r":6,"c":3,"x":-0.57,"y":0.92},{"r":6,"c":3,"x":-0.45,"y":1.41},{"r":6,"c":3,"x":-0.36,"y":0.99},{"r":6,"c":3,"x":-0.28,"y":0.77},{"r":6,"c":3,"x":-0.19,"y":1.23},{"r":6,"c":3,"x":0.02,"y":1.05},{"r":6,"c":3,"x":0.12,"y":0.68},{"r":6,"c":3,"x":0.24,"y":0.92},{"r":6,"c":3,"x":0.42,"y":1.05},{"r":6,"c":3,"x":0.68,"y":0.86},{"r":6,"c":3,"x":-0.54,"y":0.59},{"r":6,"c":3,"x":-1.15,"y":0.41},{"r":6,"c":3,"x":-0.80,"y":0.56},{"r":6,"c":3,"x":0.50,"y":0.59},{"r":6,"c":3,"x":0.76,"y":0.32},{"r":6,"c":3,"x":0.99,"y":0.14},{"r":6,"c":3,"x":1.51,"y":0.27},{"r":6,"c":3,"x":1.58,"y":0.20},{"r":6,"c":3,"x":1.41,"y":0.74},{"r":6,"c":3,"x":2.03,"y":-0.04},{"r":6,"c":3,"x":-0.75,"y":-0.09},{"r":6,"c":3,"x":-0.33,"y":-0.13},{"r":6,"c":3,"x":-0.02,"y":0.05},{"r":6,"c":3,"x":0.42,"y":0.23},{"r":6,"c":3,"x":0.68,"y":0.09},{"r":6,"c":3,"x":0.94,"y":-0.31},{"r":6,"c":3,"x":1.20,"y":-0.27},{"r":6,"c":3,"x":1.41,"y":-0.52},{"r":6,"c":3,"x":-1.79,"y":-0.58},{"r":6,"c":3,"x":-1.32,"y":-0.52},{"r":6,"c":3,"x":-0.97,"y":-0.45},{"r":6,"c":3,"x":-0.63,"y":-0.40},{"r":6,"c":3,"x":-0.23,"y":-0.45},{"r":6,"c":3,"x":0.12,"y":-0.58},{"r":6,"c":3,"x":0.50,"y":-0.45},{"r":6,"c":3,"x":0.85,"y":-0.67},{"r":6,"c":3,"x":-0.40,"y":-0.81},{"r":6,"c":3,"x":-0.02,"y":-0.70},{"r":6,"c":3,"x":0.24,"y":-0.85},{"r":6,"c":3,"x":1.06,"y":-0.85},{"r":6,"c":3,"x":1.68,"y":-0.88},{"r":6,"c":3,"x":1.75,"y":-1.17},{"r":6,"c":3,"x":1.37,"y":-1.17},{"r":6,"c":3,"x":-1.32,"y":-1.42},{"r":6,"c":3,"x":-1.79,"y":-1.48},{"r":6,"c":3,"x":-0.54,"y":-1.60},{"r":6,"c":3,"x":-0.16,"y":-1.93},{"r":6,"c":3,"x":0.68,"y":-1.17},{"r":6,"c":3,"x":0.99,"y":-1.12},{"r":6,"c":3,"x":0.68,"y":0.99},{"r":6,"c":3,"x":0.59,"y":1.35},{"r":6,"c":3,"x":1.20,"y":0.56},
{"r":6,"c":4,"x":-1.66,"y":1.95},{"r":6,"c":4,"x":-0.80,"y":1.77},{"r":6,"c":4,"x":-1.63,"y":1.05},{"r":6,"c":4,"x":-1.14,"y":0.74},{"r":6,"c":4,"x":-0.93,"y":0.77},{"r":6,"c":4,"x":-0.76,"y":0.86},{"r":6,"c":4,"x":-0.73,"y":1.28},{"r":6,"c":4,"x":-0.50,"y":1.17},{"r":6,"c":4,"x":-0.38,"y":0.81},{"r":6,"c":4,"x":-0.24,"y":1.41},{"r":6,"c":4,"x":-0.07,"y":1.23},{"r":6,"c":4,"x":0.11,"y":1.32},{"r":6,"c":4,"x":0.32,"y":1.41},{"r":6,"c":4,"x":-0.03,"y":0.68},{"r":6,"c":4,"x":0.07,"y":0.81},{"r":6,"c":4,"x":0.28,"y":0.95},{"r":6,"c":4,"x":0.37,"y":0.68},{"r":6,"c":4,"x":0.80,"y":0.92},{"r":6,"c":4,"x":1.18,"y":1.32},{"r":6,"c":4,"x":1.18,"y":0.86},{"r":6,"c":4,"x":0.98,"y":0.50},{"r":6,"c":4,"x":0.89,"y":0.56},{"r":6,"c":4,"x":1.46,"y":0.32},{"r":6,"c":4,"x":-1.89,"y":-0.45},{"r":6,"c":4,"x":-1.77,"y":-0.09},{"r":6,"c":4,"x":-1.14,"y":0.09},{"r":6,"c":4,"x":-0.80,"y":0.02},{"r":6,"c":4,"x":-0.50,"y":0.23},{"r":6,"c":4,"x":-0.33,"y":0.27},{"r":6,"c":4,"x":-0.15,"y":0.14},{"r":6,"c":4,"x":-0.27,"y":-0.31},{"r":6,"c":4,"x":-0.03,"y":-0.45},{"r":6,"c":4,"x":0.19,"y":-0.58},{"r":6,"c":4,"x":0.37,"y":-0.49},{"r":6,"c":4,"x":0.63,"y":-0.49},{"r":6,"c":4,"x":0.94,"y":-0.22},{"r":6,"c":4,"x":1.18,"y":-0.09},{"r":6,"c":4,"x":1.32,"y":-0.22},{"r":6,"c":4,"x":1.53,"y":-0.45},{"r":6,"c":4,"x":1.84,"y":-0.85},{"r":6,"c":4,"x":-0.80,"y":-0.58},{"r":6,"c":4,"x":-0.50,"y":-0.63},{"r":6,"c":4,"x":-1.59,"y":-0.99},{"r":6,"c":4,"x":-1.25,"y":-1.06},{"r":6,"c":4,"x":-1.14,"y":-1.17},{"r":6,"c":4,"x":-0.59,"y":-1.03},{"r":6,"c":4,"x":-0.55,"y":-1.17},{"r":6,"c":4,"x":-0.15,"y":-1.21},{"r":6,"c":4,"x":0.19,"y":-1.12},{"r":6,"c":4,"x":0.45,"y":-0.99},{"r":6,"c":4,"x":0.59,"y":-1.17},{"r":6,"c":4,"x":0.72,"y":-1.21},{"r":6,"c":4,"x":0.84,"y":-1.35},{"r":6,"c":4,"x":1.15,"y":-0.85},{"r":6,"c":4,"x":1.24,"y":-1.60},{"r":6,"c":4,"x":0.59,"y":-1.93},
{"r":6,"c":5,"x":-1.89,"y":1.28},{"r":6,"c":5,"x":-1.54,"y":1.35},{"r":6,"c":5,"x":-1.19,"y":1.17},{"r":6,"c":5,"x":-0.95,"y":1.95},{"r":6,"c":5,"x":-0.90,"y":0.99},{"r":6,"c":5,"x":-0.85,"y":0.81},{"r":6,"c":5,"x":-1.85,"y":0.56},{"r":6,"c":5,"x":-1.42,"y":0.45},{"r":6,"c":5,"x":-1.30,"y":0.38},{"r":6,"c":5,"x":-1.51,"y":-0.40},{"r":6,"c":5,"x":-1.16,"y":-0.45},{"r":6,"c":5,"x":-0.95,"y":-0.49},{"r":6,"c":5,"x":-0.78,"y":-0.76},{"r":6,"c":5,"x":-1.19,"y":-1.06},{"r":6,"c":5,"x":-0.98,"y":-1.42},{"r":6,"c":5,"x":-0.55,"y":0.14},{"r":6,"c":5,"x":-0.43,"y":0.05},{"r":6,"c":5,"x":-0.29,"y":-0.16},{"r":6,"c":5,"x":-0.67,"y":-0.22},{"r":6,"c":5,"x":-0.38,"y":0.77},{"r":6,"c":5,"x":-0.15,"y":1.05},{"r":6,"c":5,"x":0.09,"y":0.86},{"r":6,"c":5,"x":0.14,"y":0.95},{"r":6,"c":5,"x":0.32,"y":0.92},{"r":6,"c":5,"x":0.54,"y":0.81},{"r":6,"c":5,"x":0.58,"y":0.50},{"r":6,"c":5,"x":0.66,"y":1.14},{"r":6,"c":5,"x":0.84,"y":0.86},{"r":6,"c":5,"x":0.96,"y":1.17},{"r":6,"c":5,"x":1.10,"y":0.92},{"r":6,"c":5,"x":1.24,"y":0.99},{"r":6,"c":5,"x":1.27,"y":0.74},{"r":6,"c":5,"x":1.41,"y":1.77},{"r":6,"c":5,"x":0.93,"y":1.46},{"r":6,"c":5,"x":1.59,"y":0.27},{"r":6,"c":5,"x":1.59,"y":-0.16},{"r":6,"c":5,"x":-0.72,"y":0.27},{"r":6,"c":5,"x":-0.60,"y":0.23},{"r":6,"c":5,"x":-0.38,"y":0.14},{"r":6,"c":5,"x":-0.20,"y":-0.58},{"r":6,"c":5,"x":0.02,"y":-0.88},{"r":6,"c":5,"x":0.14,"y":-0.85},{"r":6,"c":5,"x":0.23,"y":-1.12},{"r":6,"c":5,"x":0.32,"y":-1.06},{"r":6,"c":5,"x":0.49,"y":-1.17},{"r":6,"c":5,"x":0.66,"y":-1.12},{"r":6,"c":5,"x":0.84,"y":-0.99},{"r":6,"c":5,"x":1.10,"y":-0.70},{"r":6,"c":5,"x":1.31,"y":-1.35},{"r":6,"c":5,"x":1.06,"y":-1.35},{"r":6,"c":5,"x":1.41,"y":-1.17},{"r":6,"c":5,"x":0.66,"y":-1.42},{"r":6,"c":5,"x":0.49,"y":-1.93},{"r":6,"c":5,"x":0.02,"y":-1.60},{"r":6,"c":5,"x":0.79,"y":-0.49},{"r":6,"c":5,"x":1.06,"y":-0.52},{"r":6,"c":5,"x":1.01,"y":-0.22},{"r":6,"c":5,"x":-0.15,"y":-0.09},{"r":6,"c":5,"x":0.14,"y":-0.16},{"r":6,"c":5,"x":0.40,"y":-0.31},{"r":6,"c":5,"x":0.66,"y":0.05},{"r":6,"c":5,"x":0.32,"y":0.14}
]},
"facet":{
"row":{"field":"r","type":"ordinal","title":null,"header":{"labelExpr":"['','Cont. Thr.','msRT-on','msRT-off','Min-vel-lat','Max-vel-lat','Max-vel'][datum.value]","labelAngle":-90,"labelOrient":"left","labelFont":"Liberation Sans","labelFontSize":14.5,"labelColor":"#444444","labelPadding":-6}},
"column":{"field":"c","type":"ordinal","title":null,"header":{"labelExpr":"['','Cont. Thr.','msRT-on','msRT-off','Min-vel-lat','Max-vel-lat','Max-vel'][datum.value]","labelOrient":"bottom","labelFont":"Liberation Sans","labelFontSize":14.5,"labelColor":"#444444","labelPadding":2}}
},
"spacing":{"row":0.5,"column":2},
"spec":{
"width":110,"height":107,
"layer":[
{"transform":[{"filter":"isValid(datum.x) && !isValid(datum.x2)"}],
 "mark":{"type":"circle","size":30,"color":"#42aef0","stroke":"#1f78c0","strokeWidth":0.7,"opacity":1},
 "encoding":{
  "x":{"field":"x","type":"quantitative","scale":{"domain":[-2.9,2.9],"nice":false,"zero":false},"axis":{"values":[-2,0,2],"title":null}},
  "y":{"field":"y","type":"quantitative","scale":{"domain":[-2.92,2.92],"nice":false,"zero":false},"axis":{"values":[-2,0,2],"title":null}}}},
{"transform":[{"filter":"isValid(datum.x2)"}],
 "mark":{"type":"rule","color":"#8c8c8c","strokeWidth":2},
 "encoding":{"x":{"field":"x","type":"quantitative"},"y":{"field":"y","type":"quantitative"},"x2":{"field":"x2"},"y2":{"field":"y2"}}},
{"transform":[{"filter":"datum.s == 'ns' || datum.s == 'sig'"}],
 "mark":{"type":"text","align":"left","baseline":"middle","font":"Liberation Sans","fontSize":12,"fontWeight":"bold"},
 "encoding":{"x":{"datum":-2.55},"y":{"datum":2.31},"text":{"field":"t"},
  "color":{"field":"s","type":"nominal","scale":{"domain":["ns","sig"],"range":["#000000","#ff0000"]},"legend":null}}},
{"transform":[{"filter":"datum.s == 'obs'"}],
 "mark":{"type":"text","align":"left","baseline":"middle","font":"Liberation Sans","fontSize":13,"fontWeight":"normal","color":"#000000"},
 "encoding":{"x":{"datum":-2.55},"y":{"datum":2.33},"text":{"field":"t"}}}
]}
}
